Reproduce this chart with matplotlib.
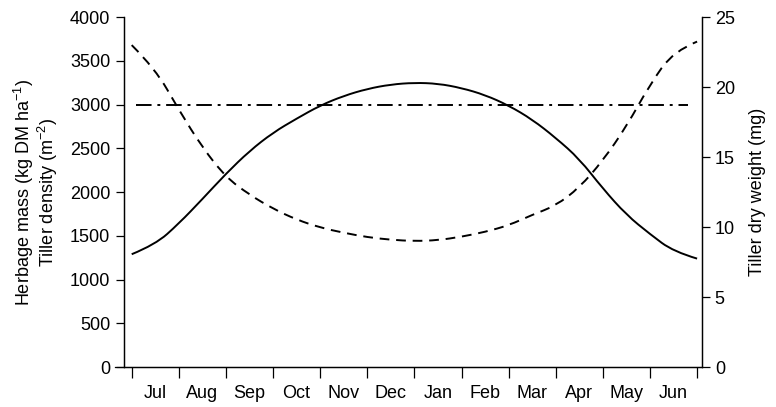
import numpy as np
import matplotlib.pyplot as plt
from matplotlib.path import Path
from matplotlib.patches import PathPatch

plt.rcParams['font.family'] = ['Liberation Sans', 'DejaVu Sans']
plt.rcParams['mathtext.fontset'] = 'custom'
plt.rcParams['mathtext.rm'] = 'Liberation Sans'
plt.rcParams['mathtext.it'] = 'Liberation Sans:italic'
plt.rcParams['font.size'] = 13

# months counted from 1 July, every half month
months = np.arange(0, 12.5, 0.5)
month_labels = ['Jul', 'Aug', 'Sep', 'Oct', 'Nov', 'Dec',
                'Jan', 'Feb', 'Mar', 'Apr', 'May', 'Jun']

herbage_mass = [1290, 1400, 1640, 1920, 2210, 2470, 2680, 2840, 2990, 3100,
                3180, 3230, 3250, 3240, 3190, 3110, 2990, 2830, 2620, 2380,
                2040, 1740, 1520, 1320, 1240]
tiller_density = [3680, 3410, 2940, 2510, 2170, 1970, 1810, 1685, 1595, 1535,
                  1485, 1455, 1440, 1450, 1490, 1545, 1620, 1740, 1845, 2050,
                  2360, 2750, 3230, 3610, 3720]
weight_months = [0.1, 11.8]
tiller_weight = [18.7, 18.7]


def smooth_path(x, y):
    # quadratic bezier pieces: the data points act as control points
    pts = np.column_stack([x, y]).astype(float)
    verts = [pts[0]]
    codes = [Path.MOVETO]
    for i in range(1, len(pts) - 1):
        end = pts[i + 1] if i == len(pts) - 2 else (pts[i] + pts[i + 1]) / 2
        verts += [pts[i], end]
        codes += [Path.CURVE3, Path.CURVE3]
    return Path(verts, codes)


fig = plt.figure(figsize=(7.76, 4.07), dpi=100)
ax = fig.add_axes([0.160, 0.098, 0.745, 0.860])
ax2 = ax.twinx()

ax.add_patch(PathPatch(smooth_path(months, herbage_mass), fill=False,
                       edgecolor='black', lw=1.4))
ax.add_patch(PathPatch(smooth_path(months, tiller_density), fill=False,
                       edgecolor='black', lw=1.4, linestyle=(0, (5, 3.5))))
ax2.plot(weight_months, tiller_weight, color='black', lw=1.4,
         dashes=(8, 3, 1.5, 3))

ax.set_xlim(-0.16, 12.11)
ax.set_ylim(0, 4000)
ax2.set_ylim(0, 25)
ax.set_yticks(np.arange(0, 4001, 500))
ax2.set_yticks(np.arange(0, 26, 5))

# month boundaries get tick marks, month names sit between them
ax.set_xticks(np.arange(0, 13))
ax.set_xticklabels([])
ax.set_xticks(np.arange(0.5, 12), minor=True)
ax.set_xticklabels(month_labels, minor=True)
ax.tick_params(axis='x', which='major', direction='out', length=8, width=0.9)
ax.tick_params(axis='x', which='minor', length=0, pad=13)
ax.tick_params(axis='y', direction='out', length=6, width=0.9, pad=4)
ax2.tick_params(axis='y', direction='out', length=6, width=0.9, pad=3)

for a in (ax, ax2):
    a.spines['top'].set_visible(False)
    for s in a.spines.values():
        s.set_linewidth(0.9)
# the time axis line runs a little past the left axis
ax.spines['bottom'].set_bounds(-0.35, 12.11)

ax.set_ylabel('Herbage mass (kg DM ha$^{-1}$)\nTiller density (m$^{-2}$)',
              linespacing=1.0, labelpad=7)
ax2.set_ylabel('Tiller dry weight (mg)', labelpad=10)

fig.savefig('out.png', dpi=100)
